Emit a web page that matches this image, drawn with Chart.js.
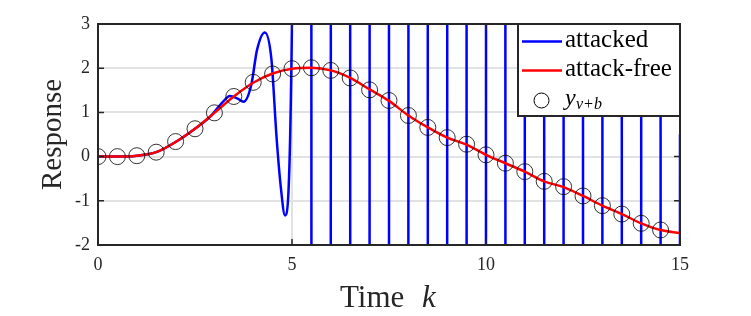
<!DOCTYPE html>
<html>
<head>
<meta charset="utf-8">
<script src="https://cdn.jsdelivr.net/npm/chart.js@4.4.0/dist/chart.umd.min.js"></script>
<style>
  html, body { margin: 0; padding: 0; background: #fff; }
</style>
</head>
<body>
<canvas id="respChart" width="751" height="316"></canvas>
<script>
// attack-free output (red)
const freeK = [0, 0.5, 1, 1.5, 2, 2.5, 3, 3.5, 4, 4.5, 5, 5.5, 6, 6.5, 7, 7.5,
  8, 8.5, 9, 9.5, 10, 10.5, 11, 11.5, 12, 12.5, 13, 13.5, 14, 14.5, 15];
const freeY = [0, 0, 0.02, 0.10, 0.33, 0.63, 0.99, 1.36, 1.67, 1.88, 1.99, 2.01, 1.95, 1.78, 1.52, 1.26,
  0.93, 0.66, 0.43, 0.27, 0.04, -0.15, -0.34, -0.56, -0.69, -0.89, -1.11, -1.30, -1.51, -1.66, -1.73];

// samples y_{v+b} (circles)
const sampleK = [0, 0.5, 1, 1.5, 2, 2.5, 3, 3.5, 4, 4.5, 5, 5.5, 6, 6.5, 7, 7.5,
  8, 8.5, 9, 9.5, 10, 10.5, 11, 11.5, 12, 12.5, 13, 13.5, 14, 14.5];
const sampleY = [0, 0, 0.02, 0.10, 0.34, 0.63, 0.99, 1.36, 1.68, 1.87, 1.99, 2.01, 1.95, 1.78, 1.51, 1.27,
  0.93, 0.66, 0.43, 0.28, 0.04, -0.15, -0.34, -0.56, -0.68, -0.89, -1.11, -1.30, -1.51, -1.66];

// attacked output (blue), diverges after k = 5 (off-scale swings = +-1e4)
const attackK = [0, 0.5, 1, 1.5, 2, 2.5, 2.9, 3.2, 3.4, 3.6, 3.75, 3.95, 4.1, 4.3, 4.47, 4.6, 4.71, 4.82,
  5, 5.25, 5.5, 5.75, 6, 6.25, 6.5, 6.75, 7, 7.25, 7.5, 7.75, 8, 8.25, 8.5, 8.75, 9, 9.25, 9.5, 9.75,
  10, 10.25, 10.5, 10.75, 11, 11.25, 11.5, 11.75, 12, 12.25, 12.5, 12.75, 13, 13.25, 13.5, 13.75,
  14, 14.25, 14.5, 14.75, 15, 15.25];
const attackY = [0, 0, 0.02, 0.10, 0.33, 0.63, 0.91, 1.22, 1.37, 1.31, 1.24, 1.62, 2.42, 2.81, 2.2, 0.46, -0.68, -1.33,
  3.1, 1e4, 0.5, -1e4, 0.5, 1e4, 0.5, -1e4, 0.5, 1e4, 0.5, -1e4, 0.5, 1e4, 0.5, -1e4, 0.5, 1e4, 0.5, -1e4,
  0.5, 1e4, 0.5, -1e4, 0.5, 1e4, 0.5, -1e4, 0.5, 1e4, 0.5, -1e4, 0.5, 1e4, 0.5, -1e4,
  0.5, 1e4, 0.5, -1e4, 0.5, 1e4];

const xTicks = [0, 5, 10, 15];
const yTicks = [-2, -1, 0, 1, 2, 3];

function pts(xs, ys) {
  return xs.map(function(x, i) { return { x: x, y: ys[i] }; });
}

const axisColor = '#262626';
const serif = "'Liberation Serif', 'Times New Roman', serif";

// MATLAB-like box, inward ticks, axis titles and legend
const boxPlugin = {
  id: 'boxPlugin',
  afterDraw: function(chart) {
    const ctx = chart.ctx;
    const a = chart.chartArea;
    const xs = chart.scales.x, ys = chart.scales.y;
    ctx.save();

    ctx.strokeStyle = axisColor;
    ctx.lineWidth = 1.5;
    ctx.beginPath();
    xTicks.forEach(function(v) {
      const px = xs.getPixelForValue(v);
      ctx.moveTo(px, a.bottom); ctx.lineTo(px, a.bottom - 6);
      ctx.moveTo(px, a.top); ctx.lineTo(px, a.top + 6);
    });
    yTicks.forEach(function(v) {
      const py = ys.getPixelForValue(v);
      ctx.moveTo(a.left, py); ctx.lineTo(a.left + 6, py);
      ctx.moveTo(a.right, py); ctx.lineTo(a.right - 6, py);
    });
    ctx.stroke();
    ctx.lineWidth = 2;
    ctx.strokeRect(a.left, a.top, a.right - a.left, a.bottom - a.top);

    // axis titles
    ctx.fillStyle = axisColor;
    ctx.font = '31px ' + serif;
    ctx.textBaseline = 'alphabetic';
    ctx.textAlign = 'left';
    ctx.fillText('Time', 340, 307);
    ctx.font = 'italic 31px ' + serif;
    ctx.fillText('k', 422, 307);

    ctx.save();
    ctx.translate(61, (a.top + a.bottom) / 2);
    ctx.rotate(-Math.PI / 2);
    ctx.font = '29px ' + serif;
    ctx.textAlign = 'center';
    ctx.fillText('Response', 0, 0);
    ctx.restore();

    // legend
    const lw = 162, lh = 92;
    const lx = a.right - lw, ly = a.top;
    ctx.fillStyle = '#fff';
    ctx.fillRect(lx, ly, lw, lh);
    ctx.strokeStyle = axisColor;
    ctx.lineWidth = 2;
    ctx.strokeRect(lx, ly, lw, lh);

    const ds = chart.data.datasets;
    ctx.lineWidth = 2.5;
    ctx.strokeStyle = ds[0].borderColor;
    ctx.beginPath(); ctx.moveTo(lx + 4, ly + 17.5); ctx.lineTo(lx + 44, ly + 17.5); ctx.stroke();
    ctx.strokeStyle = ds[1].borderColor;
    ctx.beginPath(); ctx.moveTo(lx + 4, ly + 46.5); ctx.lineTo(lx + 44, ly + 46.5); ctx.stroke();
    ctx.strokeStyle = '#000';
    ctx.lineWidth = 1;
    ctx.beginPath(); ctx.arc(lx + 23.5, ly + 76.5, 7.5, 0, Math.PI * 2); ctx.stroke();

    ctx.fillStyle = '#000';
    ctx.textAlign = 'left';
    ctx.font = '25px ' + serif;
    ctx.fillText(ds[0].label, lx + 47, ly + 23);
    ctx.fillText(ds[1].label, lx + 47, ly + 52);
    ctx.font = 'italic 24px ' + serif;
    ctx.fillText(ds[2].label, lx + 47, ly + 81);
    ctx.font = 'italic 16px ' + serif;
    ctx.fillText(ds[2].sub, lx + 58, ly + 85);

    ctx.restore();
  }
};

new Chart(document.getElementById('respChart'), {
  type: 'scatter',
  data: {
    datasets: [{
      label: 'attacked',
      data: pts(attackK, attackY),
      showLine: true,
      borderColor: '#0000ff',
      borderWidth: 2.5,
      pointRadius: 0,
      cubicInterpolationMode: 'monotone',
      order: 2
    }, {
      label: 'attack-free',
      data: pts(freeK, freeY),
      showLine: true,
      borderColor: '#ff0000',
      borderWidth: 2.5,
      pointRadius: 0,
      cubicInterpolationMode: 'monotone',
      order: 1
    }, {
      label: 'y',
      sub: 'v+b',
      data: pts(sampleK, sampleY),
      showLine: false,
      pointRadius: 8,
      pointBorderWidth: 0.8,
      pointBorderColor: '#000',
      pointBackgroundColor: 'rgba(0,0,0,0)',
      order: 0
    }]
  },
  options: {
    responsive: false,
    animation: false,
    layout: { padding: { top: 24, right: 71, left: 0, bottom: 0 } },
    plugins: { legend: { display: false }, tooltip: { enabled: false } },
    scales: {
      x: {
        type: 'linear', min: 0, max: 15,
        afterFit: function(s) { s.height = 71; },
        afterBuildTicks: function(s) { s.ticks = xTicks.map(function(v) { return { value: v }; }); },
        grid: { color: '#e2e2e2', lineWidth: 2, drawTicks: false },
        border: { display: false },
        ticks: { color: axisColor, padding: 9, font: { family: serif, size: 18 } }
      },
      y: {
        type: 'linear', min: -2, max: 3,
        afterFit: function(s) { s.width = 98; },
        afterBuildTicks: function(s) { s.ticks = yTicks.map(function(v) { return { value: v }; }); },
        grid: { color: '#e2e2e2', lineWidth: 2, drawTicks: false },
        border: { display: false },
        ticks: { color: axisColor, padding: 8, font: { family: serif, size: 18 } }
      }
    }
  },
  plugins: [boxPlugin]
});
</script>
</body>
</html>
